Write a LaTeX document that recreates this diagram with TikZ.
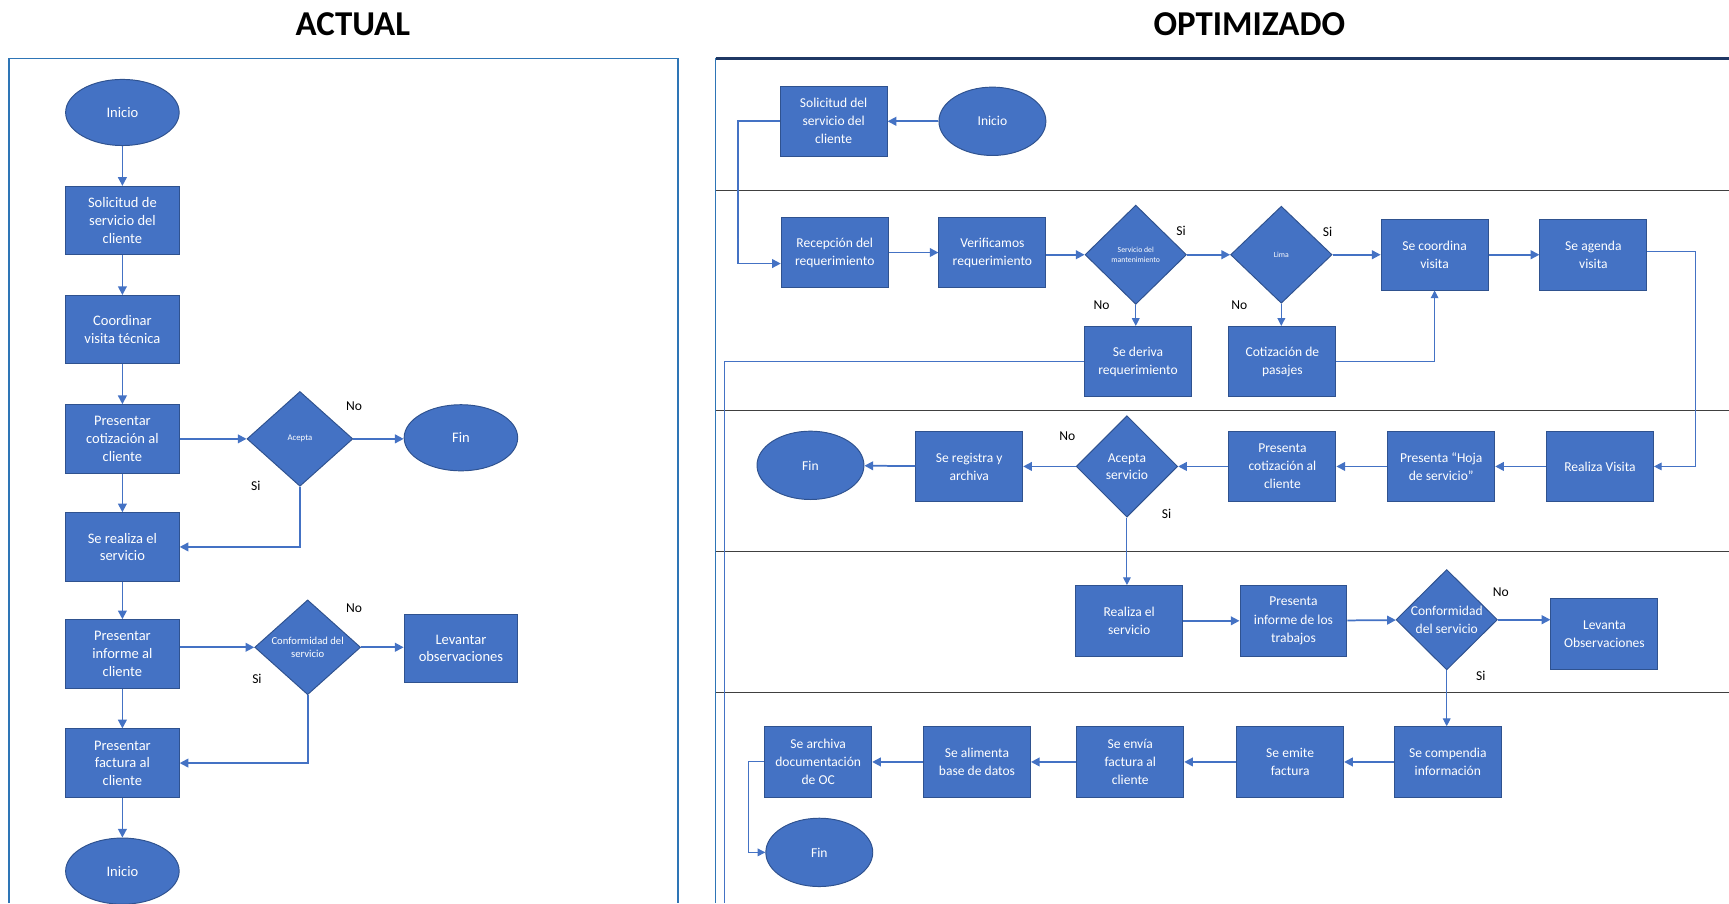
\documentclass[tikz,border=0pt]{standalone}
\usepackage{fontspec}
\setmainfont{Carlito}
\usetikzlibrary{shapes.geometric,arrows.meta}
\definecolor{caja}{HTML}{4472C4}
\definecolor{borde}{HTML}{2F528F}
\definecolor{marco}{HTML}{2E75B6}
\definecolor{carril}{HTML}{404040}
\definecolor{tope}{HTML}{1F3864}
\begin{document}
\begin{tikzpicture}[x=0.02cm,y=-0.02cm,
	proceso/.style={rectangle,draw=borde,fill=caja,text=white,align=center,line width=0.5pt,inner sep=1pt},
	pasoA/.style={proceso,minimum width=2.06cm,minimum height=1.24cm,font=\fontsize{7.5}{9.1}\selectfont},
	pasoB/.style={proceso,minimum width=1.94cm,minimum height=1.28cm,font=\fontsize{7}{9.3}\selectfont},
	terminal/.style={ellipse,draw=borde,fill=caja,text=white,inner sep=0pt,line width=0.5pt},
	finA/.style={terminal,minimum width=2.06cm,minimum height=1.2cm,font=\fontsize{7.5}{9}\selectfont},
	finB/.style={terminal,minimum width=1.94cm,minimum height=1.24cm,font=\fontsize{7}{9}\selectfont},
	decision/.style={diamond,aspect=1,draw=borde,fill=caja,text=white,align=center,inner sep=0pt,line width=0.5pt},
	flecha/.style={draw=caja,line width=0.9pt,-{Triangle[length=4.5pt,width=4.5pt]}},
	fina/.style={draw=caja,line width=0.5pt,-{Triangle[length=4pt,width=4pt]}},
	linea/.style={draw=caja,line width=0.5pt},
	etiqueta/.style={font=\fontsize{7}{8}\selectfont,text=black},
	titulo/.style={font=\fontsize{18}{20}\selectfont\bfseries}]
	\useasboundingbox (0,0) rectangle (1568,819);
	\node[titulo] (tActual) at (320,22) {ACTUAL};
	\node[titulo] (tOptimo) at (1133,22) {OPTIMIZADO};
	% frames and lanes
	\draw[marco,line width=0.8pt] (8,819) -- (8,53) -- (615,53) -- (615,819);
	\draw[marco,line width=0.8pt] (649,819) -- (649,53);
	\draw[tope,line width=1.3pt] (649,53) -- (1568,53);
	\foreach \y in {173,372,500,628}
		\draw[carril,line width=0.6pt] (649,\y) -- (1568,\y);

	% ACTUAL
	\node[finA] (iniA) at (111,102) {Inicio};
	\node[pasoA] (solA) at (111,200) {Solicitud de\\servicio del\\cliente};
	\node[pasoA] (coordA) at (111,299) {Coordinar\\visita técnica};
	\node[pasoA] (cotA) at (111,398) {Presentar\\cotización al\\cliente};
	\node[decision,minimum width=1.92cm,minimum height=1.72cm,font=\fontsize{4.5}{5}\selectfont] (aceptaA) at (272,398) {Acepta};
	\node[finA] (finA) at (418,397) {Fin};
	\node[pasoA] (realizaA) at (111,496) {Se realiza el\\servicio};
	\node[pasoA] (informeA) at (111,593) {Presentar\\informe al\\cliente};
	\node[decision,minimum width=1.92cm,minimum height=1.72cm,font=\fontsize{5.5}{6.5}\selectfont] (confA) at (279,587) {Conformidad del\\servicio};
	\node[pasoA] (levA) at (418,588) {Levantar\\observaciones};
	\node[pasoA] (facturaA) at (111,692) {Presentar\\factura al\\cliente};
	\node[finA] (iniA2) at (111,790) {Inicio};
	\node[etiqueta] (noA1) at (321,368) {No};
	\node[etiqueta] (siA1) at (232,441) {Si};
	\node[etiqueta] (noA2) at (321,552) {No};
	\node[etiqueta] (siA2) at (233,616) {Si};
	\draw[flecha] (iniA) -- (solA);
	\draw[flecha] (solA) -- (coordA);
	\draw[flecha] (coordA) -- (cotA);
	\draw[flecha] (cotA) -- (aceptaA);
	\draw[flecha] (aceptaA.east) -- (aceptaA.east -| finA.west);
	\draw[flecha] (cotA) -- (realizaA);
	\draw[flecha] (aceptaA.south) |- (realizaA.east);
	\draw[flecha] (realizaA) -- (informeA);
	\draw[flecha] (informeA.east |- confA.west) -- (confA.west);
	\draw[flecha] (confA.east) -- (confA.east -| levA.west);
	\draw[flecha] (informeA) -- (facturaA);
	\draw[flecha] (confA.south) |- (facturaA.east);
	\draw[flecha] (facturaA) -- (iniA2);

	% OPTIMIZADO
	\node[pasoB] (solB) at (756,110) {Solicitud del\\servicio del\\cliente};
	\node[finB] (iniB) at (900,110) {Inicio};
	\node[pasoB] (recB) at (757,229) {Recepción del\\requerimiento};
	\node[pasoB] (verB) at (900,229) {Verificamos\\requerimiento};
	\node[decision,minimum width=1.84cm,minimum height=1.8cm,font=\fontsize{4}{5}\selectfont] (servB) at (1030,231) {Servicio del\\mantenimiento};
	\node[decision,minimum width=1.84cm,minimum height=1.76cm,font=\fontsize{4}{5}\selectfont] (limaB) at (1162,231) {Lima};
	\node[pasoB] (coordB) at (1301,231) {Se coordina\\visita};
	\node[pasoB] (agendaB) at (1445,231) {Se agenda\\visita};
	\node[pasoB] (derivaB) at (1032,328) {Se deriva\\requerimiento};
	\node[pasoB] (pasajesB) at (1163,328) {Cotización de\\pasajes};
	\node[finB] (finB) at (735,422) {Fin};
	\node[pasoB] (registraB) at (879,423) {Se registra y\\archiva};
	\node[decision,minimum width=1.84cm,minimum height=1.84cm,font=\fontsize{7}{9}\selectfont] (aceptaB) at (1022,423) {Acepta\\servicio};
	\node[pasoB] (cotB) at (1163,423) {Presenta\\cotización al\\cliente};
	\node[pasoB] (hojaB) at (1307,423) {Presenta “Hoja\\de servicio”};
	\node[pasoB] (visitaB) at (1451,423) {Realiza Visita};
	\node[pasoB] (realizaB) at (1024,563) {Realiza el\\servicio};
	\node[pasoB] (informeB) at (1173,563) {Presenta\\informe de los\\trabajos};
	\node[decision,minimum width=1.84cm,minimum height=1.82cm,font=\fontsize{7}{9}\selectfont] (confB) at (1312,562) {Conformidad\\del servicio};
	\node[pasoB] (levB) at (1455,575) {Levanta\\Observaciones};
	\node[pasoB] (compB) at (1313,691) {Se compendia\\información};
	\node[pasoB] (emiteB) at (1170,691) {Se emite\\factura};
	\node[pasoB] (enviaB) at (1025,691) {Se envía\\factura al\\cliente};
	\node[pasoB] (alimentaB) at (886,691) {Se alimenta\\base de datos};
	\node[pasoB] (archivaB) at (742,691) {Se archiva\\documentación\\de OC};
	\node[finB] (finB2) at (743,773) {Fin};
	\coordinate (bajada) at (657,819);
	\node[etiqueta] (siB1) at (1071,209) {Si};
	\node[etiqueta] (siB2) at (1204,210) {Si};
	\node[etiqueta] (noB1) at (999,277) {No};
	\node[etiqueta] (noB2) at (1124,277) {No};
	\node[etiqueta] (noB3) at (968,396) {No};
	\node[etiqueta] (siB3) at (1058,466) {Si};
	\node[etiqueta] (noB4) at (1361,537) {No};
	\node[etiqueta] (siB4) at (1343,613) {Si};
	\draw[flecha] (iniB) -- (solB);
	\draw[flecha] (solB.west) -- ++(-38,0) |- ([yshift=-0.2cm]recB.west);
	\draw[flecha] (recB) -- (verB);
	\draw[flecha] (verB.east |- servB.west) -- (servB.west);
	\draw[flecha] (servB) -- (limaB);
	\draw[flecha] (limaB) -- (coordB);
	\draw[flecha] (coordB) -- (agendaB);
	\draw[fina] (servB.south) -- (servB.south |- derivaB.north);
	\draw[fina] (limaB.south) -- (limaB.south |- pasajesB.north);
	\draw[fina] (pasajesB.east) -| (coordB.south);
	\draw[linea] (derivaB.west) -| (bajada);
	\draw[fina] ([yshift=0.06cm]agendaB.east) -- ++(44,0) |- (visitaB.east);
	\draw[flecha] (visitaB) -- (hojaB);
	\draw[flecha] (hojaB) -- (cotB);
	\draw[flecha] (cotB) -- (aceptaB);
	\draw[flecha] (aceptaB) -- (registraB);
	\draw[flecha] (registraB) -- (finB);
	\draw[fina] (aceptaB.south) -- (aceptaB.south |- realizaB.north);
	\draw[flecha] (realizaB) -- (informeB);
	\draw[flecha] (informeB) -- (confB);
	\draw[flecha] (confB.east) -- (confB.east -| levB.west);
	\draw[fina] (confB.south) -- (confB.south |- compB.north);
	\draw[flecha] (compB) -- (emiteB);
	\draw[flecha] (emiteB) -- (enviaB);
	\draw[flecha] (enviaB) -- (alimentaB);
	\draw[flecha] (alimentaB) -- (archivaB);
	\draw[fina] (archivaB.west) -- ++(-14,0) |- (finB2.west);
\end{tikzpicture}
\end{document}
